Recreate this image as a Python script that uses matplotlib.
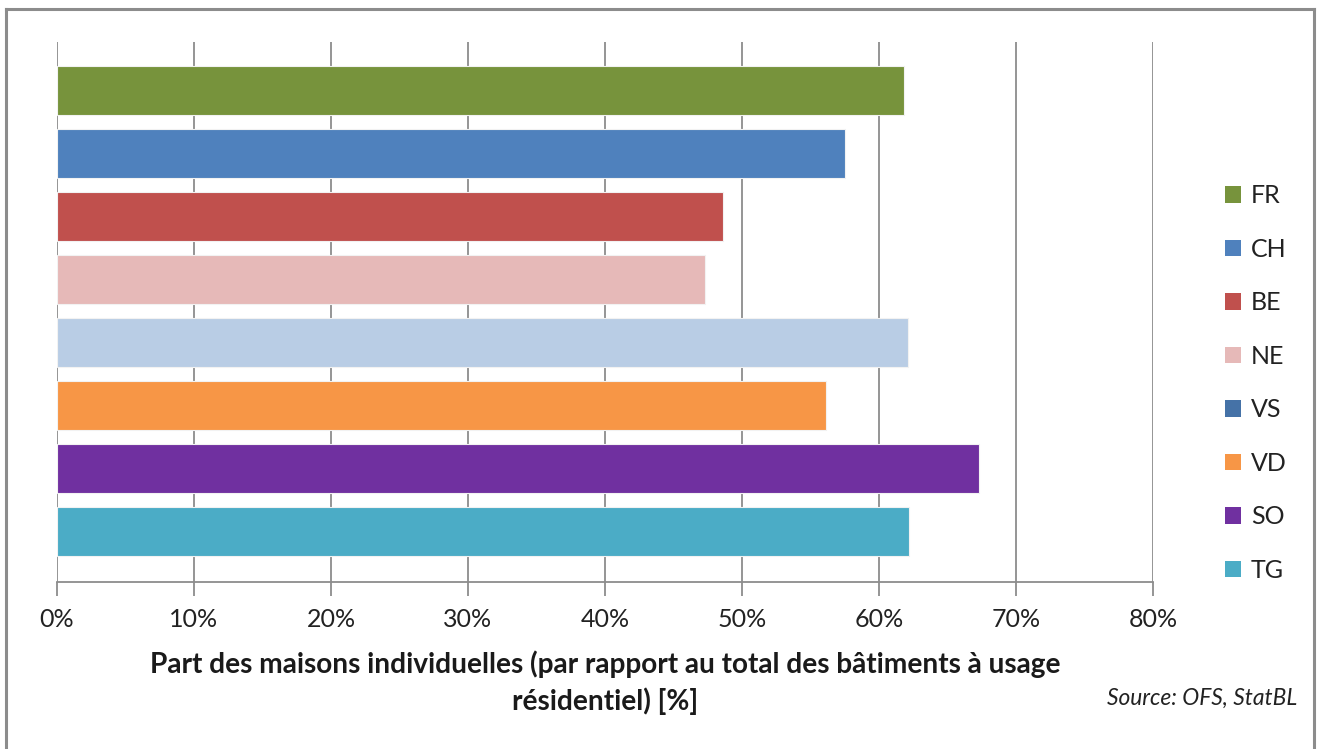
import matplotlib
matplotlib.use("Agg")
import matplotlib.pyplot as plt
from matplotlib.patches import Patch

plt.rcParams['font.family'] = ['Lato', 'DejaVu Sans']

# Cantons / country and their share of single-family houses (%)
regions = ["FR", "CH", "BE", "NE", "VS", "VD", "SO", "TG"]
shares = [61.8, 57.5, 48.6, 47.3, 62.1, 56.1, 67.3, 62.2]
bar_colors = ["#77933c", "#4f81bd", "#c0504d", "#e6b9b8",
              "#b9cde5", "#f79646", "#7030a0", "#4bacc6"]
legend_colors = ["#77933c", "#4f81bd", "#c0504d", "#e6b9b8",
                 "#4572a7", "#f79646", "#7030a0", "#4bacc6"]
x_ticks = [0, 10, 20, 30, 40, 50, 60, 70, 80]
x_tick_labels = [f"{t}%" for t in x_ticks]

W, H = 1317, 749
fig = plt.figure(figsize=(W / 100, H / 100), dpi=100)

# outer frame (open at the bottom)
frame = dict(color="#8c8c8c", lw=2.2, transform=fig.transFigure)
fig.add_artist(plt.Line2D([6 / W, 6 / W], [0, 1 - 9 / H], **frame))
fig.add_artist(plt.Line2D([6 / W, 1314 / W], [1 - 9 / H, 1 - 9 / H], **frame))
fig.add_artist(plt.Line2D([1314 / W, 1314 / W], [0, 1 - 9 / H], **frame))

left, right = 57, 1153
top, bottom = 42, 582
ax = fig.add_axes([left / W, 1 - bottom / H, (right - left) / W, (bottom - top) / H])

ypos = list(range(len(regions)))
ax.barh(ypos, shares, height=0.78, color=bar_colors, edgecolor="#f2f2f2",
        linewidth=0.8, zorder=3)

ax.set_xlim(0, 80)
ax.set_ylim(7.8, -0.77)
ax.set_xticks(x_ticks)
ax.set_xticklabels(x_tick_labels, fontsize=18, color="#222222")
ax.set_yticks([])
ax.grid(axis="x", color="#8c8c8c", linewidth=1.3, zorder=0)
for s in ["top", "right", "left"]:
    ax.spines[s].set_visible(False)
ax.spines["bottom"].set_color("#8c8c8c")
ax.spines["bottom"].set_linewidth(1.3)
ax.tick_params(axis="x", length=10, width=1.3, color="#8c8c8c", pad=9)

ax.set_xlabel("Part des maisons individuelles (par rapport au total des bâtiments à usage\nrésidentiel) [%]",
              fontsize=20.2, fontweight="bold", color="#1a1a1a", labelpad=14, linespacing=1.4)

handles = [Patch(facecolor=c, edgecolor="none") for c in legend_colors]
fig.legend(handles, regions, loc="center left", bbox_to_anchor=(1202 / W, 1 - 383 / H),
           frameon=False, fontsize=18, handlelength=0.65, handleheight=0.65,
           handletextpad=0.4, labelspacing=1.22, labelcolor="#222222")

fig.text(1297 / W, 1 - 698 / H, "Source: OFS, StatBL", ha="right", va="center",
         fontsize=16.4, style="italic", color="#222222")

fig.savefig("out.png", dpi=100)
